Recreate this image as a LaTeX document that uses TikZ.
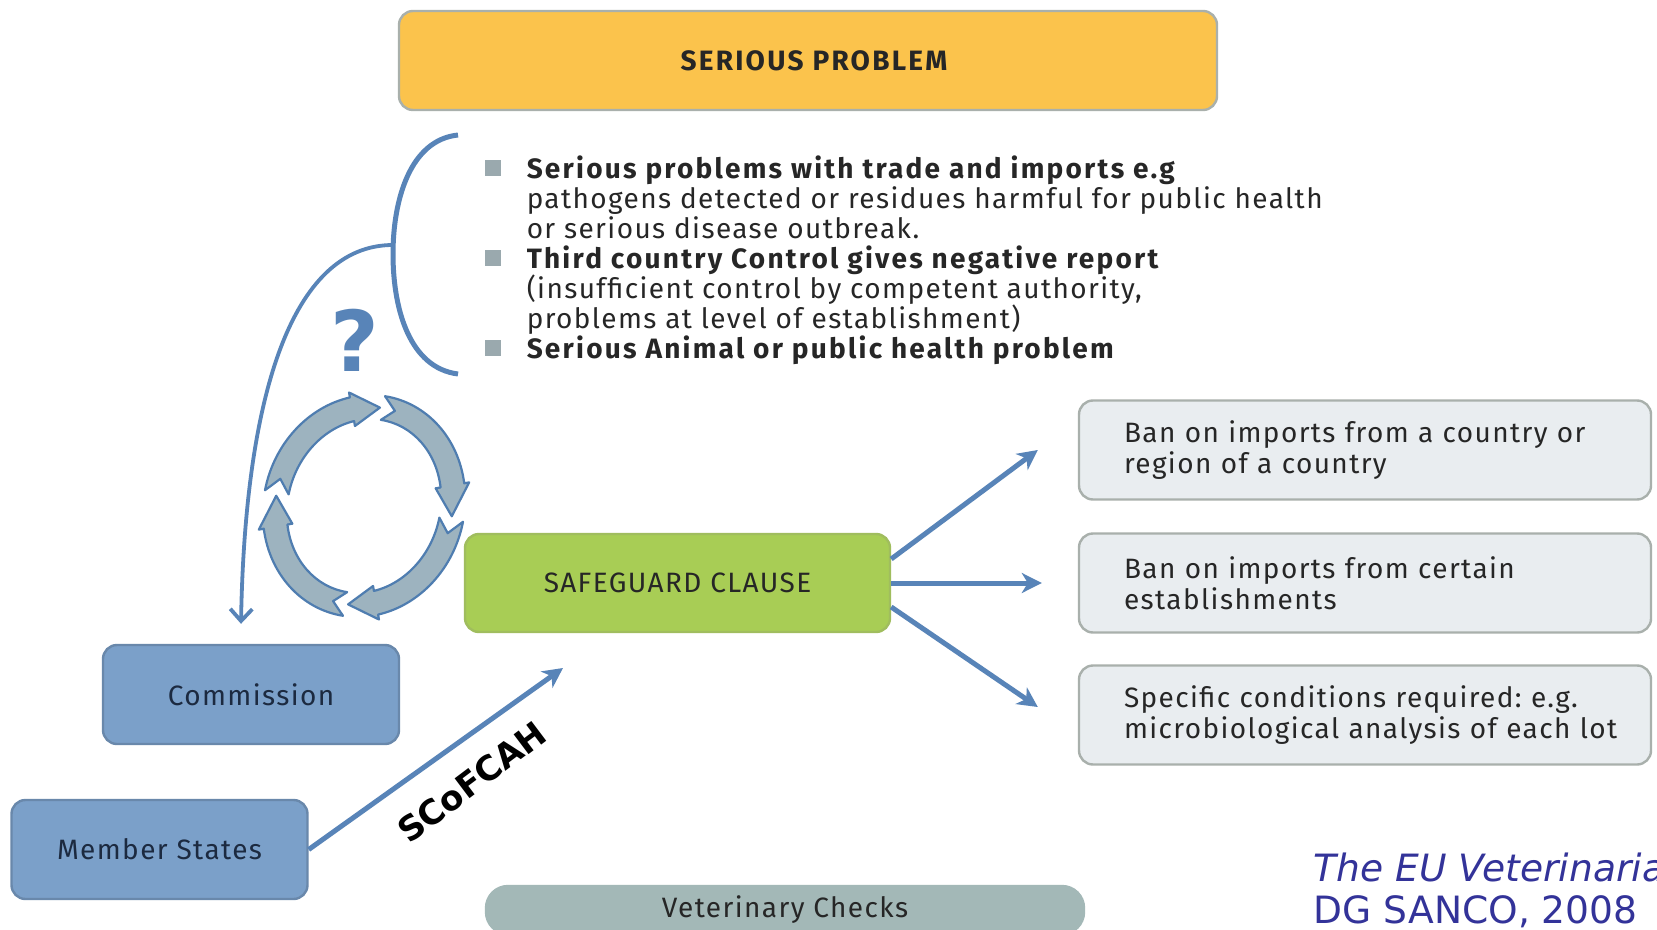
\documentclass[tikz,border=0pt]{standalone}
\usepackage{fontspec}
\setmainfont{Fira Sans}[LetterSpace=5, BoldFeatures={LetterSpace=8}]
\newfontfamily\citefont{DejaVu Sans}
\usetikzlibrary{shapes, arrows.meta}
\usetikzlibrary{positioning}
\tikzset{every picture/.style={line width=0.75pt}}
\frenchspacing

\definecolor{probfill}{HTML}{FBC34C}
\definecolor{safefill}{HTML}{A8CD55}
\definecolor{bodyfill}{HTML}{7BA0C9}
\definecolor{actfill}{HTML}{E9EDF0}
\definecolor{vetfill}{HTML}{A3B8B7}
\definecolor{edgegray}{HTML}{A9B0AC}
\definecolor{lineblue}{HTML}{5884B8}
\definecolor{ringfill}{HTML}{9DB3BF}
\definecolor{ringedge}{HTML}{4F7DB0}
\definecolor{bulgray}{HTML}{9AA9AE}
\definecolor{navytext}{HTML}{1C2A40}
\definecolor{citeblue}{HTML}{333399}

\newcommand{\sqb}{\textcolor{bulgray}{\rule[1pt]{8pt}{8pt}}\hspace{13pt}}
\newcommand{\cont}{\hspace*{21pt}}
\newcommand{\tightlines}{\lineskiplimit=-20pt\relax}

\begin{document}
\begin{tikzpicture}[x=0.5pt,y=0.5pt,yscale=-1,xscale=1]

     \tikzstyle{panel} = [rounded corners=7pt,
                        draw = edgegray,
                        line width = 1.2pt,
                        inner sep = 4pt,
                        text centered,
                        text = black!85,
                        font = \fontsize{14}{15.5}\selectfont
                        ]
     \tikzstyle{body} = [panel, fill = bodyfill, draw = bodyfill!85!black,
                        minimum width = 148pt, minimum height = 49.5pt, text = navytext]
     \tikzstyle{action} = [panel, fill = actfill, minimum width = 286pt, minimum height = 49.5pt,
                        text width = 263.5pt, inner xsep = 11.25pt, align = left,
                        execute at begin node = {\leftskip=11.25pt\relax}]
     \tikzstyle{arrow} = [line width = 2.5pt, draw = lineblue,
                        -{Stealth[length=10pt, width=10pt, inset=3pt]}]

\useasboundingbox (0,0) rectangle (1657,930);
\clip (0,0) rectangle (1657,930);
\fill[white] (0,0) rectangle (1657,930);

% top box and list of causes
\node [panel, fill = probfill, minimum width = 409pt, minimum height = 49.5pt,
       font = \fontsize{14}{16}\selectfont\bfseries] (serious) at (808,60.5) {\hspace*{6pt}SERIOUS PROBLEM};
\node [anchor = north west, inner sep = 0pt, align = left, text = black!85,
       font = {\fontsize{14}{15}\selectfont\tightlines}] (causes) at (484,155) {%
  \sqb\textbf{Serious problems with trade and imports e.g}\\
  \cont pathogens detected or residues harmful for public health\\
  \cont or serious disease outbreak.\\
  \sqb\textbf{Third country Control gives negative report}\\
  \cont (insufficient control by competent authority,\\
  \cont problems at level of establishment)\\
  \sqb\textbf{Serious Animal or public health problem}};

% bracket and question
\draw [lineblue, line width = 2.5pt] (458,135) .. controls (410,140) and (393,200) .. (393,254)
      .. controls (393,310) and (410,368) .. (458,374);
\coordinate (brk) at (393,245);
\node [text = lineblue, font = \citefont\fontsize{42}{42}\selectfont\bfseries] (qmark) at (355,340) {?};

% cycle of four arrows
\begin{scope}[shift = {(364,506)}, rotate = 18]
\foreach \a in {172,262,352,442} {
  \pgfmathsetmacro\b{\a+88}
  \pgfmathsetmacro\c{\a+70}
  \pgfmathsetmacro\d{\a+8}
  \draw [fill = ringfill, draw = ringedge, line width = 1.1pt, line join = round]
    (\a:100 and 112) arc [start angle = \a, end angle = \c, x radius = 100, y radius = 112]
    -- (\c:105 and 117) -- (\b:88 and 100) -- (\c:71 and 83) -- (\c:76 and 88)
    arc [start angle = \c, end angle = \a, x radius = 76, y radius = 88]
    -- (\d:88 and 100) -- cycle;
}
\end{scope}

% safeguard clause and measures
\node [panel, fill = safefill, draw = safefill!80!gray, minimum width = 212.5pt,
       minimum height = 49pt] (safe) at (677.5,583) {SAFEGUARD CLAUSE};
\node [action, on grid, right = 343.75pt of safe] (ban2) {Ban on imports from certain\\establishments};
\node [action, on grid, above = 66.5pt of ban2] (ban1) {Ban on imports from a country or\\region of a country};
\node [action, on grid, below = 66pt of ban2] (ban3) {Specific conditions required: e.g.\\microbiological analysis of each lot};

% who decides
\node [body] (comm) at (251,694.5) {Commission};
\node [body, on grid, below left = 77.5pt and 45.75pt of comm] (members) {Member States};
\node [panel, fill = vetfill, draw = vetfill, rounded corners = 11pt, minimum width = 299pt,
       minimum height = 24pt] (vet) at (785,910) {Veterinary Checks};
\coordinate (scoTip) at (563,668);

\draw [lineblue, line width = 1.9pt, -{Straight Barb[length=6pt, width=11pt]}]
      (brk) .. controls (290,245) and (245,400) .. ([xshift=-5pt, yshift=-10pt]comm.north);
\draw [arrow] ([yshift=-12pt]safe.east) -- ([xshift=-20pt]ban1.west);
\draw [arrow] (safe.east) -- ([xshift=-18pt]ban2.west);
\draw [arrow] ([yshift=12pt]safe.east) -- ([xshift=-20pt, yshift=-4pt]ban3.west);
\draw [arrow] (members.east) -- (scoTip);
\node [rotate = 37, text = black, font = \citefont\fontsize{17}{17}\selectfont\bfseries]
      (sco) at (472,782) {SCoFCAH};

% source
\node [anchor = west, align = left, inner sep = 0pt, text = citeblue,
       font = \citefont\fontsize{18.8}{21}\selectfont] (cite) at (1313,890)
      {\textit{The EU Veterinaria}\\DG SANCO, 2008};

\end{tikzpicture}
\end{document}
